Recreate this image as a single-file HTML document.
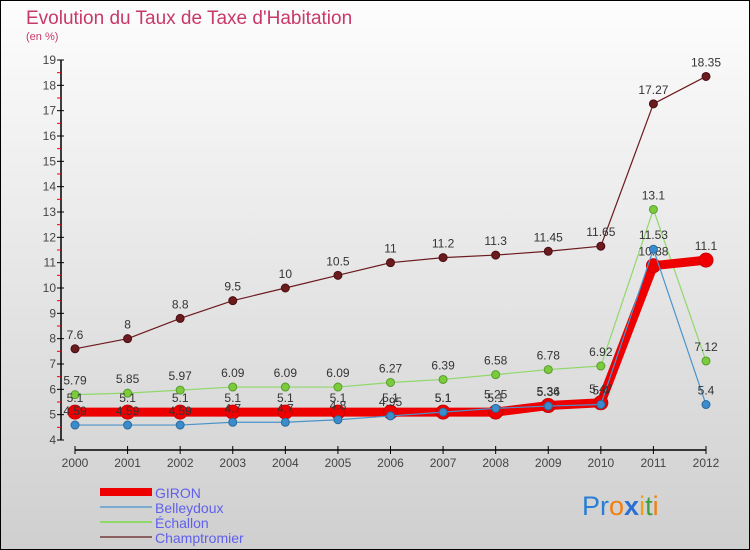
<!DOCTYPE html>
<html><head><meta charset="utf-8"><style>
body{margin:0}
#wrap{width:750px;height:550px;position:relative;overflow:hidden;font-family:"Liberation Sans",sans-serif}
</style></head><body>
<div id="wrap">
<svg id="svg" width="750" height="550" xmlns="http://www.w3.org/2000/svg">
<defs><linearGradient id="bg" x1="0" y1="0" x2="0" y2="1"><stop offset="0" stop-color="#fdfdfd"/><stop offset="1" stop-color="#cfcfcf"/></linearGradient></defs>
<rect x="0" y="0" width="750" height="550" fill="url(#bg)" stroke="#000" stroke-width="2"/>
<text x="26" y="24" font-size="19" fill="#c8386a">Evolution du Taux de Taxe d'Habitation</text>
<text x="26" y="40" font-size="11" fill="#c8386a">(en %)</text>
<g id="axes"></g><g id="series"></g><g id="legend"></g>
<text x="582" y="515" font-size="27" font-family="Liberation Sans, sans-serif"><tspan fill="#2a7fd4">Pr</tspan><tspan fill="#f07f10">o</tspan><tspan fill="#2a6fd4" font-weight="bold">x</tspan><tspan fill="#f0a010">i</tspan><tspan fill="#3aa040">t</tspan><tspan fill="#f07f10">i</tspan></text>
</svg>
</div>
<script>
const years=[2000,2001,2002,2003,2004,2005,2006,2007,2008,2009,2010,2011,2012];
const yTicks=[4,5,6,7,8,9,10,11,12,13,14,15,16,17,18,19];
const giron=[5.1,5.1,5.1,5.1,5.1,5.1,5.1,5.1,5.1,5.36,5.47,10.88,11.1];
const belleydoux=[4.59,4.59,4.59,4.7,4.7,4.8,4.95,5.1,5.25,5.34,5.4,11.53,5.4];
const echallon=[5.79,5.85,5.97,6.09,6.09,6.09,6.27,6.39,6.58,6.78,6.92,13.1,7.12];
const champ=[7.6,8,8.8,9.5,10,10.5,11,11.2,11.3,11.45,11.65,17.27,18.35];
const NS="http://www.w3.org/2000/svg";
function xs(i){return 75+i*(706-75)/(years.length-1);}
function ys(v){return 440-(v-4)*(380/15);}
function mk(tag,attrs,parent,txt){const e=document.createElementNS(NS,tag);for(const k in attrs)e.setAttribute(k,attrs[k]);if(txt!==undefined)e.textContent=txt;parent.appendChild(e);return e;}
const ax=document.getElementById('axes');
let l=mk('line',{x1:61,y1:ys(19),x2:61,y2:ys(4),stroke:'#000','stroke-width':1.5},ax);


yTicks.forEach(v=>{
 let t=mk('line',{x1:57,y1:ys(v),x2:64,y2:ys(v),stroke:'#000'},ax);
 
 
 if(v<19){let h=mk('line',{x1:57,y1:ys(v+0.5),x2:61,y2:ys(v+0.5),stroke:'#e00'},ax);
 
 }
 let tx=mk('text',{x:56,y:ys(v)+4,'font-size':12,fill:'#444','text-anchor':'end'},ax,String(v));
 
 
});
let xl=mk('line',{x1:75,y1:450,x2:706,y2:450,stroke:'#000','stroke-width':1.5},ax);


years.forEach((y,i)=>{
 let t=mk('line',{x1:xs(i),y1:446,x2:xs(i),y2:454,stroke:'#000'},ax);
 
 
 let tx=mk('text',{x:xs(i),y:467,'font-size':12,fill:'#444','text-anchor':'middle'},ax,String(y));
 
 
});
const sg=document.getElementById('series');
function series(name,data,color,w,r,dot,dotStroke){
 const g=mk('g',{},sg);
 
 
 const pts=data.map((v,i)=>xs(i)+','+ys(v)).join(' ');
 let p=mk('polyline',{points:pts,fill:'none',stroke:color,'stroke-width':w,'stroke-linejoin':'round'},g);
 
 
 data.forEach((v,i)=>{
  let c=mk('circle',{cx:xs(i),cy:ys(v),r:r,fill:dot,stroke:dotStroke,'stroke-width':1},g);
  
  
  let t=mk('text',{x:xs(i),y:ys(v)-10,'font-size':12,fill:'#333','text-anchor':'middle'},g,String(v));
  
  
 });
}
series('champtromier',champ,'#6b1a1e',1.2,4,'#6b1a1e','#4a0f12');
series('echallon',echallon,'#8fd86a',1.2,4,'#7acc3a','#5a9a30');
series('giron',giron,'#ee0000',9,7,'#ee0000','#c00');
series('belleydoux',belleydoux,'#4a94cc',1.2,4,'#3a8ccc','#2a6a9a');
const lg=document.getElementById('legend');
const items=[['GIRON','#ee0000',8],['Belleydoux','#7aaad0',2],['Échallon','#8fd86a',2],['Champtromier','#8a6060',2]];
items.forEach((it,i)=>{
 const y=492+i*15;
 let s=mk('line',{x1:100,y1:y,x2:152,y2:y,stroke:it[1],'stroke-width':it[2]},lg);
 
 
 let t=mk('text',{x:155,y:y+6,'font-size':14,fill:'#6060ee'},lg,it[0]);
 
 
});
</script>
</body></html>
